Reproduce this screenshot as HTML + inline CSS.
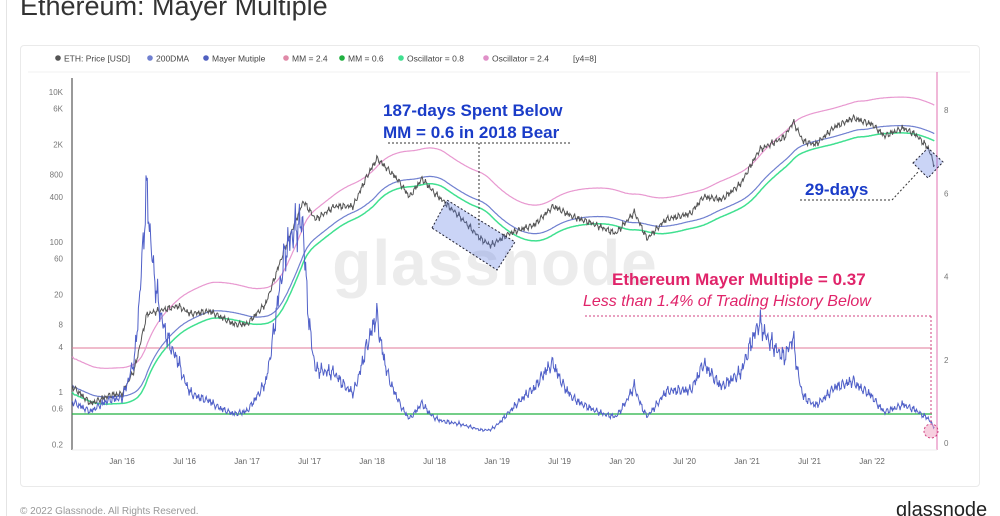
<!DOCTYPE html>
<html><head><meta charset="utf-8"><style>
body{margin:0;background:#fff;font-family:"Liberation Sans",sans-serif;}
#w{position:relative;width:1000px;height:516px;overflow:hidden;background:#fff}
</style></head><body><div id="w">
<div style="position:absolute;left:0;top:0;width:6px;height:516px;border-right:1px solid #e4e4e4"></div>
<div style="position:absolute;left:20px;top:-9px;font-size:27px;color:#333">Ethereum: Mayer Multiple</div>
<div style="position:absolute;left:20px;top:45px;width:958px;height:440px;border:1px solid #eaeaea;border-radius:4px"></div>
<svg id="s" width="1000" height="516" style="position:absolute;left:0;top:0" font-family="Liberation Sans, sans-serif"></svg>
<div style="position:absolute;left:20px;top:506px;font-size:10px;color:#999">© 2022 Glassnode. All Rights Reserved.</div>
<div style="position:absolute;left:896px;top:499px;font-size:20px;color:#222">glassnode</div>
</div>
<script>
const s=document.getElementById('s');let h='';
const X=t=>122+(t-2016)*125;
const YL=p=>392-75*Math.log10(p);
const YR=v=>443-41.6*v;
const leg=[["#555","ETH: Price [USD]",58],["#7080d0","200DMA",150],["#5060c0","Mayer Mutiple",206],["#e08aa8","MM = 2.4",286],["#20b040","MM = 0.6",342],["#40e090","Oscillator = 0.8",401],["#e090c8","Oscillator = 2.4",486]];
leg.forEach(l=>{h+=`<circle cx="${l[2]}" cy="58" r="2.8" fill="${l[0]}"/><text x="${l[2]+6}" y="61.5" font-size="8.5" fill="#444">${l[1]}</text>`});
h+=`<text x="573" y="61.5" font-size="8.5" fill="#444">[y4=8]</text>`;
h+=`<line x1="28" y1="72" x2="970" y2="72" stroke="#f0f0f0"/>`;
h+=`<text x="495" y="285" font-size="64" fill="#ececec" text-anchor="middle" font-weight="bold" letter-spacing="1">glassnode</text>`;
h+=`<line x1="72" y1="78" x2="72" y2="450" stroke="#333"/><line x1="937" y1="72" x2="937" y2="450" stroke="#e070b0"/><line x1="72" y1="450" x2="937" y2="450" stroke="#eee"/>`;
[[10000,"10K"],[6000,"6K"],[2000,"2K"],[800,"800"],[400,"400"],[100,"100"],[60,"60"],[20,"20"],[8,"8"],[4,"4"],[1,"1"],[0.6,"0.6"],[0.2,"0.2"]].forEach(a=>{h+=`<text x="63" y="${YL(a[0])+3}" font-size="8" fill="#777" text-anchor="end">${a[1]}</text>`});
[0,2,4,6,8].forEach(v=>{h+=`<text x="944" y="${YR(v)+3}" font-size="8" fill="#777">${v}</text>`});
["Jan '16","Jul '16","Jan '17","Jul '17","Jan '18","Jul '18","Jan '19","Jul '19","Jan '20","Jul '20","Jan '21","Jul '21","Jan '22"].forEach((l,i)=>{h+=`<text x="${X(2016+i/2)}" y="464" font-size="8" fill="#666" text-anchor="middle">${l}</text>`});
const K=[[2015.6,1.2],[2015.75,0.7],[2015.9,0.9],[2016.0,0.95],[2016.1,2],[2016.2,11],[2016.45,14],[2016.55,11],[2016.7,12],[2016.9,8],[2017.0,8],[2017.15,15],[2017.3,80],[2017.45,350],[2017.55,200],[2017.7,300],[2017.85,300],[2017.95,700],[2018.04,1300],[2018.2,700],[2018.3,400],[2018.4,700],[2018.5,450],[2018.7,220],[2018.87,110],[2018.95,90],[2019.1,130],[2019.3,170],[2019.45,300],[2019.6,220],[2019.75,180],[2019.95,130],[2020.1,250],[2020.2,110],[2020.35,200],[2020.55,240],[2020.65,400],[2020.8,370],[2020.95,600],[2021.1,1700],[2021.3,2500],[2021.37,4000],[2021.45,2200],[2021.55,2000],[2021.7,3400],[2021.85,4500],[2022.0,3700],[2022.1,2600],[2022.25,3300],[2022.35,2700],[2022.45,1800],[2022.5,1050]];
const days=[],pr=[];let k=0;
for(let t=2015.6;t<=2022.5;t+=1/365){while(k<K.length-2&&K[k+1][0]<t)k++;const a=K[k],b=K[k+1];const f=(t-a[0])/(b[0]-a[0]);let lp=Math.log(a[1])+(Math.log(b[1])-Math.log(a[1]))*f;lp+=0.06*Math.sin(t*211)+0.04*Math.sin(t*537)+0.03*Math.sin(t*1290);days.push(t);pr.push(Math.exp(lp));}
const ma=[];let sum=0;for(let i=0;i<pr.length;i++){sum+=pr[i];if(i>=200)sum-=pr[i-200];ma.push(sum/Math.min(i+1,200));}
const path=(fx,fy)=>{let d='';for(let i=0;i<days.length;i+=2){d+=(i?'L':'M')+fx(days[i]).toFixed(1)+' '+fy(i).toFixed(1);}return d;};
h+=`<line x1="72" y1="348" x2="932" y2="348" stroke="#e07898" stroke-width="1"/>`;
h+=`<line x1="72" y1="414" x2="932" y2="414" stroke="#20b040" stroke-width="1.2"/>`;
h+=`<path d="${path(X,i=>YL(ma[i]*2.4))}" fill="none" stroke="#e898d0" stroke-width="1.2"/>`;
h+=`<path d="${path(X,i=>YL(ma[i]*0.8))}" fill="none" stroke="#40e090" stroke-width="1.5"/>`;
h+=`<path d="${path(X,i=>YL(ma[i]))}" fill="none" stroke="#7080d0" stroke-width="1.2"/>`;
h+=`<path d="${path(X,i=>YL(pr[i]))}" fill="none" stroke="#555" stroke-width="1"/>`;
h+=`<path d="${path(X,i=>YR(Math.min(pr[i]/ma[i],8)))}" fill="none" stroke="#5060c8" stroke-width="1"/>`;
h+=`<polygon points="432,228 447,200 515,242 497,270" fill="#5070e0" fill-opacity="0.3" stroke="#223" stroke-dasharray="2,2"/>`;
h+=`<polygon points="913,163 928,148 943,162 928,178" fill="#5070e0" fill-opacity="0.3" stroke="#223" stroke-dasharray="2,2"/>`;
h+=`<line x1="388" y1="143" x2="572" y2="143" stroke="#333" stroke-dasharray="2,2"/><line x1="479" y1="143" x2="479" y2="228" stroke="#333" stroke-dasharray="2,2"/>`;
h+=`<line x1="800" y1="200" x2="892" y2="200" stroke="#333" stroke-dasharray="2,2"/><line x1="892" y1="200" x2="918" y2="172" stroke="#333" stroke-dasharray="2,2"/>`;
h+=`<text x="383" y="116" font-size="17" font-weight="bold" fill="#1a3cc8">187-days Spent Below</text><text x="383" y="138" font-size="17" font-weight="bold" fill="#1a3cc8">MM = 0.6 in 2018 Bear</text>`;
h+=`<text x="805" y="195" font-size="17" font-weight="bold" fill="#1a3cc8">29-days</text>`;
h+=`<text x="612" y="285" font-size="17" font-weight="bold" fill="#e0246a">Ethereum Mayer Multiple = 0.37</text>`;
h+=`<text x="583" y="306" font-size="16" font-style="italic" fill="#e0246a">Less than 1.4% of Trading History Below</text>`;
h+=`<line x1="585" y1="316" x2="931" y2="316" stroke="#d04080" stroke-dasharray="2,2"/><line x1="931" y1="316" x2="931" y2="424" stroke="#d04080" stroke-dasharray="2,2"/>`;
h+=`<circle cx="931" cy="431" r="7" fill="#f0a0c0" fill-opacity="0.5" stroke="#d04080" stroke-dasharray="2,2"/>`;
s.innerHTML=h;
</script></body></html>
